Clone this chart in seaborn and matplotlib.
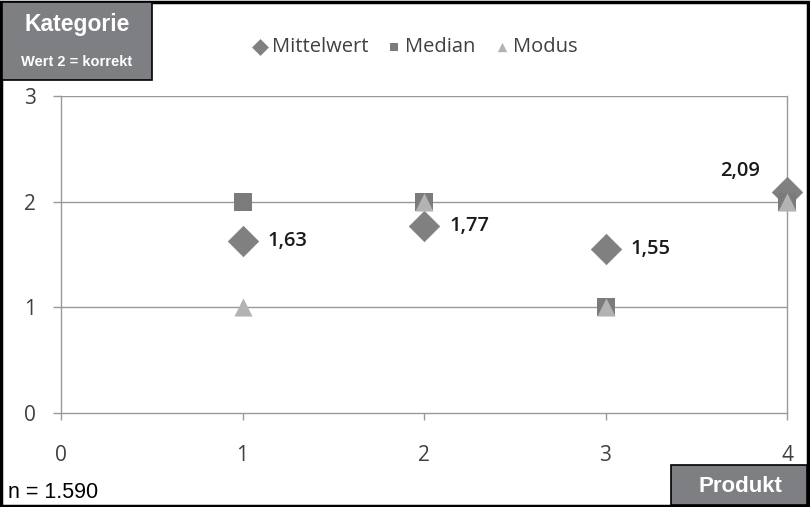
import matplotlib
matplotlib.use("Agg")
import matplotlib.pyplot as plt
import seaborn as sns
import pandas as pd
from matplotlib.patches import Rectangle

produkt = [1, 2, 3, 4]
mittelwert = [1.63, 1.77, 1.55, 2.09]
median = [2, 2, 1, 2]
modus = [1, 2, 1, 2]
mittel_labels = ["1,63", "1,77", "1,55", "2,09"]
x_ticks = [0, 1, 2, 3, 4]
y_ticks = [0, 1, 2, 3]

sns.set_theme(style="white")
plt.rcParams['font.family'] = ['Open Sans', 'DejaVu Sans']

fig = plt.figure(figsize=(8.1, 5.07), dpi=100)
ax = fig.add_axes([61/810, 1-413/507, (787-61)/810, (413-96)/507])

df_mw = pd.DataFrame({"x": produkt, "y": mittelwert})
df_md = pd.DataFrame({"x": produkt, "y": median})
df_mo = pd.DataFrame({"x": produkt, "y": modus})

sns.scatterplot(data=df_mw, x="x", y="y", ax=ax, marker="D", s=240, color="#808080",
                edgecolor="#808080", linewidth=0.5, label="Mittelwert", clip_on=False, zorder=3)
sns.scatterplot(data=df_md, x="x", y="y", ax=ax, marker="s", s=155, color="#7b7b7b",
                edgecolor="#7b7b7b", linewidth=0, label="Median", clip_on=False, zorder=4)
sns.scatterplot(data=df_mo, x="x", y="y", ax=ax, marker="^", s=170, color="#b3b3b3",
                edgecolor="#b3b3b3", linewidth=0, label="Modus", clip_on=False, zorder=5)

for i, (xv, yv, lab) in enumerate(zip(produkt, mittelwert, mittel_labels)):
    if i == len(produkt) - 1:
        ax.annotate(lab, (xv, yv), xytext=(-34, 15), textcoords="offset points",
                    fontsize=14.5, color="#1a1a1a", ha="center", va="center", fontweight="semibold")
    else:
        ax.annotate(lab, (xv, yv), xytext=(18, 0), textcoords="offset points",
                    fontsize=14.5, color="#1a1a1a", ha="left", va="center", fontweight="semibold")

ax.set_xlim(0, 4)
ax.set_ylim(0, 3)
ax.set_xticks(x_ticks)
ax.set_yticks(y_ticks)
ax.set_xticklabels([str(v) for v in x_ticks], fontsize=15, color="#404040")
ax.set_yticklabels([str(v) for v in y_ticks], fontsize=15, color="#404040")
ax.set_xlabel("")
ax.set_ylabel("")
ax.tick_params(axis="x", direction="out", length=5, width=1, color="#999999", pad=18, bottom=True)
ax.tick_params(axis="y", direction="out", length=6, width=1, color="#999999", pad=12, left=True)
for y in [1, 2, 3]:
    ax.axhline(y, color="#999999", linewidth=1, zorder=1)
ax.spines["top"].set_visible(False)
for side in ["left", "right", "bottom"]:
    ax.spines[side].set_visible(True)
    ax.spines[side].set_color("#999999")
    ax.spines[side].set_linewidth(1)
ax.set_facecolor("white")

leg = ax.legend(loc="center", bbox_to_anchor=(415/810, 1-47/507), bbox_transform=fig.transFigure,
                ncol=3, frameon=False, fontsize=14.5, handletextpad=0.15, columnspacing=0.9,
                markerscale=0.52, labelcolor="#404040", handlelength=0.8)

# outer frame
fig.patches.append(Rectangle((1/810, 1/507), 807/810, 504/507, transform=fig.transFigure,
                             fill=False, edgecolor="black", linewidth=2.5))
# Kategorie box
fig.patches.append(Rectangle((2/810, 1-80/507), 150/810, 78/507, transform=fig.transFigure,
                             facecolor="#7e7f83", edgecolor="black", linewidth=1.2, zorder=5))
fig.text(77/810, 1-24/507, "Kategorie", ha="center", va="center", fontsize=16.5, color="white",
         fontweight="bold", family="Liberation Sans", zorder=6)
fig.text(77/810, 1-62/507, "Wert 2 = korrekt", ha="center", va="center", fontsize=10.5, color="white",
         fontweight="bold", family="Liberation Sans", zorder=6)
# Produkt box
fig.patches.append(Rectangle((671/810, 2/507), 136/810, 40/507, transform=fig.transFigure,
                             facecolor="#7e7f83", edgecolor="black", linewidth=1.2, zorder=5))
fig.text(740/810, 1-486/507, "Produkt", ha="center", va="center", fontsize=16, color="white",
         fontweight="bold", family="Liberation Sans", zorder=6)
fig.text(8/810, 1-492/507, "n = 1.590", ha="left", va="center", fontsize=15.5, color="black",
         family="Liberation Sans")

fig.savefig("out.png", dpi=100)
